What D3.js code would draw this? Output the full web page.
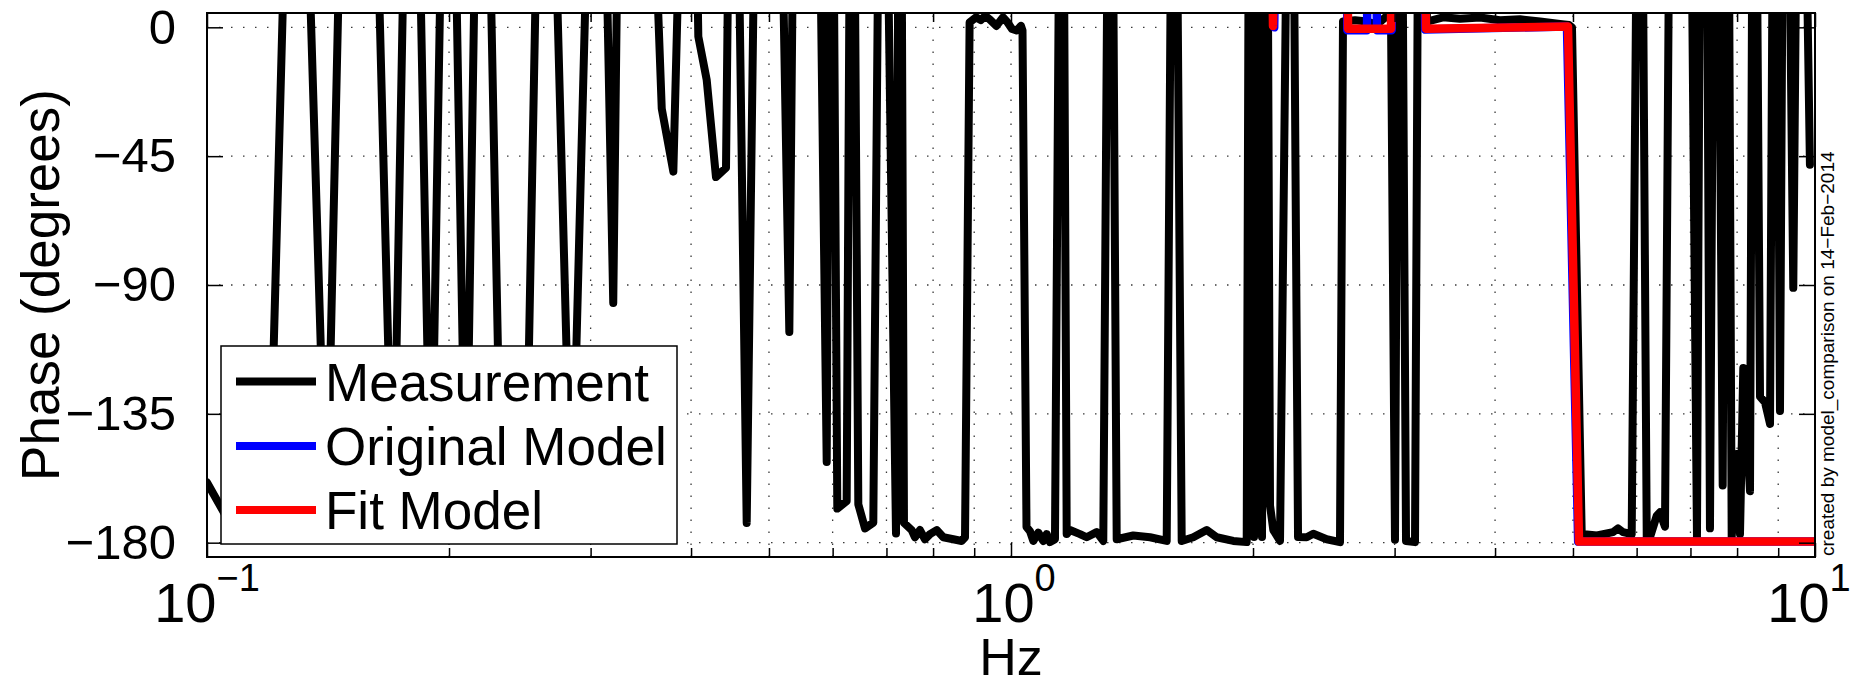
<!DOCTYPE html>
<html><head><meta charset="utf-8">
<script src="https://cdn.jsdelivr.net/npm/d3@7"></script>
<style>
body{margin:0;background:#fff;}
svg{display:block;}
text{font-family:"Liberation Sans", Arial, Helvetica, sans-serif;fill:#000;}
</style>
</head><body>
<svg id="chart" width="1851" height="686"></svg>
<script>
// ---- data ----
const measFreq = [0.1000,0.1062,0.1193,0.1290,0.1408,0.1502,0.1581,0.1704,0.1797,0.1899,
  0.1996,0.2099,0.2196,0.2325,0.2489,0.2629,0.2840,0.3063,0.3201,0.3287,
  0.3456,0.3678,0.3802,0.3988,0.4084,0.4183,0.4296,0.4421,0.4510,0.4691,
  0.4869,0.5087,0.5300,0.5418,0.5704,0.5899,0.5972,0.6081,0.6246,0.6342,
  0.6458,0.6583,0.6741,0.6910,0.7194,0.7276,0.7360,0.7525,0.7596,0.7705,
  0.7816,0.7930,0.8083,0.8238,0.8476,0.8684,0.8766,0.8882,0.9046,0.9171,
  0.9290,0.9408,0.9590,0.9776,0.9903,1.0029,1.0159,1.0291,1.0335,1.0454,
  1.0559,1.0660,1.0813,1.0968,1.1076,1.1182,1.1342,1.1572,1.1729,1.1840,
  1.2184,1.2419,1.2781,1.3025,1.3297,1.3535,1.4194,1.4890,1.5619,1.5949,
  1.6305,1.6855,1.7516,1.8024,1.8901,1.9641,1.9828,2.0057,2.0288,2.0521,
  2.0757,2.0997,2.1196,2.1607,2.2299,2.2751,2.3323,2.3768,2.4697,2.5656,
  2.5878,2.6782,2.7720,2.8119,2.8525,2.9353,2.9692,3.0033,3.0469,3.0997,
  3.1805,3.2263,3.2916,3.4459,3.6180,3.8312,4.0568,4.2960,4.5491,4.8172,
  4.9431,4.9857,5.1267,5.3561,5.6075,5.6883,5.7703,5.9158,6.0584,6.1761,
  6.2348,6.3551,6.4153,6.5077,6.6395,6.9501,7.1318,7.2347,7.2970,7.4022,
  7.5313,7.6770,7.7722,7.8774,7.9908,8.0668,8.1435,8.3016,8.3969,8.5431,
  8.6661,8.7911,8.9171,9.0459,9.1763,9.3970,9.5789,9.8560];
const measPhase = [-159,-172,-178,178,-178,178,178,-178,178,-178,
  178,-178,178,-178,-178,178,-178,178,-96.3,178,
  178,-28.4,-50.4,178,-3.2,-18.3,-52.3,-49.1,178,-173.1,
  178,178,-106.4,178,178,-151.8,178,-168.1,-165.5,178,
  -166.6,-175,-173,178,-176.8,178,-173.1,-175.6,-178.1,-175.6,
  -178.8,-177,-175.6,-178.1,-178.8,-179.4,-178.1,1.7,3.5,2.5,
  4,2.8,0.5,3.5,1.7,-0.6,-1.1,0.5,-1.1,-174.5,
  -176,-179.4,-176.5,-179.4,-177,-179.8,-178.8,178,-177,-175.6,
  -177,-178.1,-176.3,-179.4,178,-178.8,-177.5,-178.1,-179.4,178,
  -179.4,-178.1,-175.6,-178.1,-179.4,-179.8,178,-178,178,-178,
  178,-167,-175.6,-179.4,178,-178,-178.1,-176.9,-178.8,-179.8,
  2,2.5,2,1.5,1,4,4,-179,178,-179.4,
  -179.8,178,2,3.5,3,3.4,2.5,2.8,2,1.2,
  0.8,0,-177,-177.5,-176.3,-175,-176.3,-177,178,-178,
  -178,-170.6,-169.4,-174.4,178,178,-178,178,178,-175,
  178,-160,178,-178,-149,-177,-119,-162,178,-129,
  -131,-138.5,178,-134,178,-91,178,-48];

const origFreq  = [0.1, 2.09, 2.125, 2.17, 2.595, 2.62, 2.772, 2.812, 2.852, 2.975, 3.0, 3.23, 3.275, 4.915, 5.075, 10];
const origPhase = [178, 178, 0, 178, 178, -1.0, -1.0, 178, -1.0, -1.0, 178, 178, -0.8, 0.3, -179.6, -179.6];

const fitFreq  = [0.1, 2.0877, 2.1178, 2.1607, 2.6028, 2.6252, 2.9692, 2.9949, 3.2357, 3.2822, 4.929, 5.0871, 10];
const fitPhase = [178, 178, 0.5, 178, 178, -0.5, -0.5, 178, 178, -0.5, 0.3, -179.6, -179.6];

const yTicks = [0, -45, -90, -135, -180];
const xMajor = [0.1, 1, 10];
const xMajorExp = ["\u22121", "0", "1"];
const xMinor = [0.2,0.3,0.4,0.5,0.6,0.7,0.8,0.9,2,3,4,5,6,7,8,9];
const legendNames = ["Measurement", "Original Model", "Fit Model"];
const legendColors = ["#000000", "#0000ff", "#ff0000"];

// ---- layout ----
const svg = d3.select("#chart");
const L = 207, R = 1815, T = 13, B = 557;
const x = d3.scaleLog().domain([0.1, 10]).range([L, R]);
const y = d3.scaleLinear().domain([-185, 5]).range([B, T]);

svg.append("rect").attr("x",0).attr("y",0).attr("width",1851).attr("height",686).attr("fill","#fff");

svg.append("defs").append("clipPath").attr("id","plotclip")
  .append("rect").attr("x",L).attr("y",T).attr("width",R-L).attr("height",B-T);

// grid
const grid = svg.append("g").attr("stroke","#3a3a3a").attr("stroke-width",1.3)
  .attr("stroke-dasharray","1.5 10.5").attr("fill","none");
grid.selectAll("line.gx").data(xMajor.concat(xMinor).filter(v => v > 0.1 && v < 10))
  .join("line").attr("x1", d => x(d)).attr("x2", d => x(d)).attr("y1", B).attr("y2", T);
grid.selectAll("line.gy").data(yTicks)
  .join("line").attr("x1", L).attr("x2", R).attr("y1", d => y(d)).attr("y2", d => y(d));

// lines
const plot = svg.append("g").attr("clip-path","url(#plotclip)");
const line = d3.line().x(d => x(d[0])).y(d => y(d[1]));
const series = [
  {f: measFreq, p: measPhase, c: legendColors[0], w: 8},
  {f: origFreq, p: origPhase, c: legendColors[1], w: 8.5},
  {f: fitFreq,  p: fitPhase,  c: legendColors[2], w: 8.5}
];
series.forEach(s => {
  plot.append("path").datum(s.f.map((f,i) => [f, s.p[i]]))
    .attr("d", line).attr("fill","none").attr("stroke", s.c).attr("stroke-width", s.w)
    .attr("stroke-linejoin","round").attr("stroke-linecap","round");
});

// axes
function styleAxis(g){
  g.selectAll("path.domain").remove();
  g.selectAll("line").attr("stroke","#000").attr("stroke-width",1.5);
}
svg.append("g").attr("transform",`translate(0,${B})`)
  .call(d3.axisBottom(x).tickValues(xMajor).tickSize(-14).tickSizeOuter(0).tickFormat(""))
  .call(styleAxis);
svg.append("g").attr("transform",`translate(0,${B})`)
  .call(d3.axisBottom(x).tickValues(xMinor).tickSize(-9).tickSizeOuter(0).tickFormat(""))
  .call(styleAxis);
svg.append("g").attr("transform",`translate(0,${T})`)
  .call(d3.axisTop(x).tickValues(xMajor).tickSize(-14).tickSizeOuter(0).tickFormat(""))
  .call(styleAxis);
svg.append("g").attr("transform",`translate(0,${T})`)
  .call(d3.axisTop(x).tickValues(xMinor).tickSize(-9).tickSizeOuter(0).tickFormat(""))
  .call(styleAxis);
const yl = svg.append("g").attr("transform",`translate(${L},0)`)
  .call(d3.axisLeft(y).tickValues(yTicks).tickSize(-16).tickSizeOuter(0).tickPadding(31)
    .tickFormat(d => d < 0 ? "\u2212" + Math.abs(d) : String(d)))
  .call(styleAxis);
yl.selectAll("text").attr("font-size", 49).attr("font-family", '"Liberation Sans", Arial, sans-serif').attr("fill","#000");
svg.append("g").attr("transform",`translate(${R},0)`)
  .call(d3.axisRight(y).tickValues(yTicks).tickSize(-16).tickSizeOuter(0).tickFormat(""))
  .call(styleAxis);

// box
svg.append("rect").attr("x",L).attr("y",T).attr("width",R-L).attr("height",B-T)
  .attr("fill","none").attr("stroke","#000").attr("stroke-width",2);

// x tick labels 10^n
const xl = svg.append("g");
const xOff = [0, 3, -6];
xMajor.forEach((v,i) => {
  const t = xl.append("text").attr("x", x(v) + xOff[i]).attr("y", 622)
    .attr("text-anchor","middle").attr("font-size", 56);
  t.append("tspan").text("10");
  t.append("tspan").attr("font-size", 38).attr("dy", -31).text(xMajorExp[i]);
});

// axis titles
svg.append("text").attr("x", x(1)).attr("y", 675).attr("text-anchor","middle")
  .attr("font-size", 52).text("Hz");
svg.append("text").attr("transform", `translate(59,${(T+B)/2}) rotate(-90)`)
  .attr("text-anchor","middle").attr("font-size", 53).text("Phase (degrees)");

// side note
svg.append("text").attr("transform", `translate(1834,556) rotate(-90)`)
  .attr("text-anchor","start").attr("font-size", 19).text("created by model_comparison on 14\u2212Feb\u22122014");

// legend
const lg = svg.append("g");
lg.append("rect").attr("x",221).attr("y",346).attr("width",456).attr("height",198)
  .attr("fill","#fff").attr("stroke","#000").attr("stroke-width",1.5);
const rowY = [381.5, 446, 510];
legendNames.forEach((n,i) => {
  lg.append("line").attr("x1",236).attr("x2",316).attr("y1",rowY[i]).attr("y2",rowY[i])
    .attr("stroke", legendColors[i]).attr("stroke-width", 8);
  lg.append("text").attr("x",325).attr("y",rowY[i]+19).attr("font-size",53).text(n);
});
</script>
</body></html>
